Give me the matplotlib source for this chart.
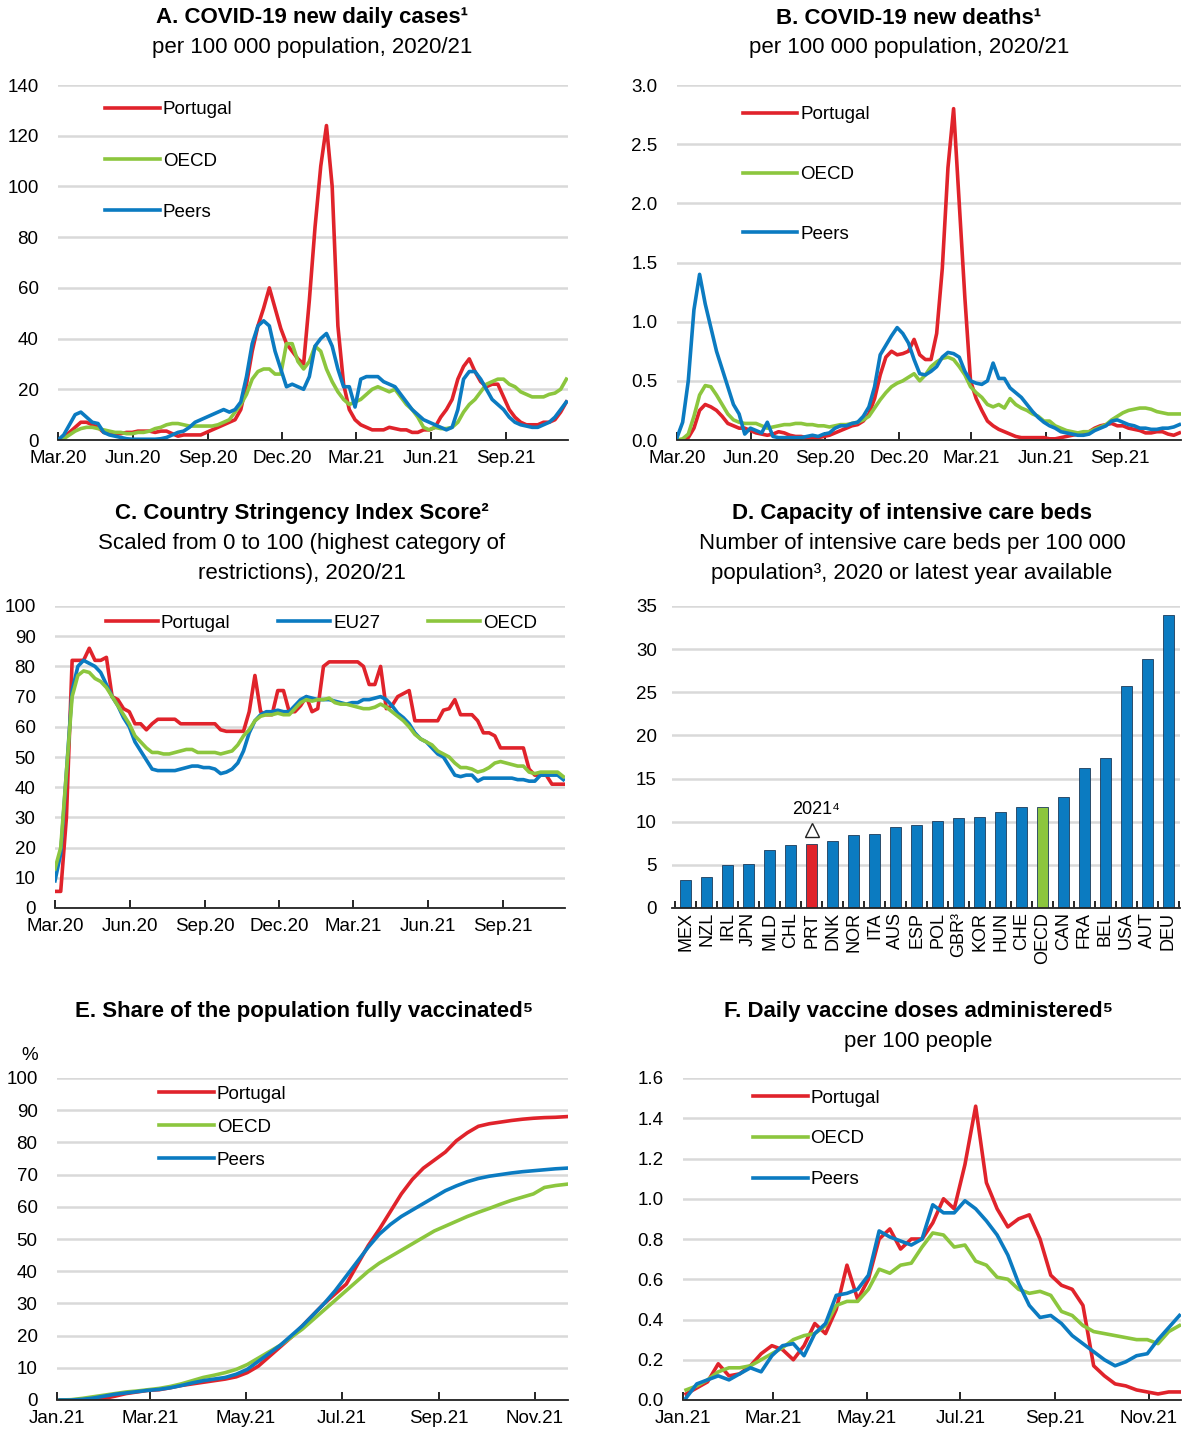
import numpy as np
import pandas as pd
import matplotlib
matplotlib.use("Agg")
import matplotlib.pyplot as plt
import matplotlib.dates as mdates

# Fonts: Arial-like sans with fallback for superscript digits
plt.rcParams['font.family'] = ['Liberation Sans', 'DejaVu Sans']

RED = "#E0232B"
GREEN = "#8CC63E"
BLUE = "#0B7BC1"
GRID = "#D9D9D9"

# ---------------- Data ----------------
# weekly points from 1 Mar 2020 (panels A, B, C)
weeks_20 = pd.date_range("2020-03-01", periods=90, freq="7D")

cases_prt = [0, 1, 3, 5, 7, 7, 6, 5, 3, 2.5, 2.5, 2.5, 3, 3, 3.5, 3.5, 3.5, 3, 3.5, 3.5,
             2.5, 1.5, 2, 2, 2, 2, 3, 4, 5, 6, 7, 8, 12, 22, 35, 45, 52, 60, 52, 44,
             38, 35, 32, 30, 55, 84, 108, 124, 100, 45, 22, 12, 8, 6, 5, 4, 4, 4, 5, 4.5,
             4, 4, 3, 3, 4, 4, 5, 9, 12, 16, 24, 29, 32, 27, 23, 21, 22, 22, 17, 12,
             9, 7, 6, 6, 6, 7, 7, 8, 11, 15]
cases_oecd = [0, 0.5, 2, 3.5, 4.5, 5, 5, 4.5, 4, 3.5, 3, 3, 2.5, 2.5, 3, 3, 3.5, 4.5, 5, 6,
              6.5, 6.5, 6, 5.5, 5.5, 5.5, 5.5, 5.5, 6, 7, 8, 11, 14, 18, 24, 27, 28, 28, 26, 26,
              38, 38, 31, 28, 31, 37, 35, 28, 23, 19, 16, 14, 15, 16, 18, 20, 21, 20, 19, 20,
              17, 14, 12, 9, 5, 4, 5, 4.5, 4.5, 5, 7, 11, 14, 16, 19, 22, 23, 24, 24, 22,
              21, 19, 18, 17, 17, 17, 18, 18.5, 20, 24]
cases_peers = [0, 2, 6, 10, 11, 9, 7, 6.5, 3, 2, 1.5, 1, 0.5, 0.3, 0.3, 0.3, 0.3, 0.3, 0.5, 1,
               2, 3, 3.5, 5, 7, 8, 9, 10, 11, 12, 11, 12, 15, 25, 38, 45, 47, 45, 35, 28,
               21, 22, 21, 20, 25, 37, 40, 42, 37, 28, 21, 21, 13, 24, 25, 25, 25, 23, 22, 21,
               18, 15, 12, 10, 8, 7, 6, 5, 4, 5, 12, 24, 27, 27, 24, 20, 16, 14, 12, 9,
               7, 6, 5.5, 5, 5, 6, 7, 9, 12, 15]

deaths_prt = [0, 0, 0.02, 0.1, 0.25, 0.3, 0.28, 0.25, 0.2, 0.14, 0.12, 0.1, 0.1, 0.08, 0.06,
              0.05, 0.04, 0.05, 0.07, 0.06, 0.04, 0.03, 0.03, 0.02, 0.02, 0.02, 0.03, 0.04,
              0.06, 0.08, 0.1, 0.12, 0.13, 0.16, 0.22, 0.35, 0.55, 0.7, 0.75, 0.72, 0.73,
              0.75, 0.85, 0.72, 0.68, 0.68, 0.9, 1.45, 2.3, 2.8, 2.0, 1.2, 0.5, 0.35, 0.25,
              0.16, 0.12, 0.09, 0.07, 0.05, 0.03, 0.02, 0.02, 0.02, 0.02, 0.02, 0.01, 0.01,
              0.02, 0.03, 0.04, 0.05, 0.06, 0.07, 0.1, 0.12, 0.13, 0.14, 0.12, 0.12, 0.1,
              0.09, 0.08, 0.06, 0.06, 0.07, 0.07, 0.05, 0.04, 0.06]
deaths_oecd = [0, 0.01, 0.05, 0.2, 0.38, 0.46, 0.45, 0.38, 0.3, 0.22, 0.17, 0.15, 0.14, 0.14,
               0.14, 0.12, 0.1, 0.11, 0.12, 0.13, 0.13, 0.14, 0.14, 0.13, 0.13, 0.12, 0.12,
               0.11, 0.12, 0.13, 0.13, 0.14, 0.15, 0.17, 0.2, 0.27, 0.34, 0.4, 0.45, 0.48,
               0.5, 0.53, 0.56, 0.5, 0.55, 0.62, 0.66, 0.69, 0.7, 0.68, 0.62, 0.55, 0.45,
               0.4, 0.36, 0.3, 0.28, 0.3, 0.27, 0.35, 0.3, 0.27, 0.25, 0.22, 0.2, 0.16, 0.16,
               0.12, 0.1, 0.08, 0.07, 0.06, 0.07, 0.07, 0.09, 0.11, 0.13, 0.17, 0.2, 0.23,
               0.25, 0.26, 0.27, 0.27, 0.26, 0.24, 0.23, 0.22, 0.22, 0.22]
deaths_peers = [0.02, 0.15, 0.5, 1.1, 1.4, 1.15, 0.95, 0.75, 0.6, 0.45, 0.3, 0.22, 0.05, 0.1,
                0.08, 0.06, 0.15, 0.03, 0.02, 0.02, 0.02, 0.02, 0.02, 0.03, 0.04, 0.03,
                0.05, 0.06, 0.1, 0.12, 0.12, 0.14, 0.15, 0.2, 0.28, 0.45, 0.72, 0.8, 0.88,
                0.95, 0.9, 0.82, 0.68, 0.56, 0.55, 0.58, 0.62, 0.7, 0.74, 0.73, 0.7, 0.58,
                0.5, 0.48, 0.47, 0.5, 0.65, 0.52, 0.52, 0.44, 0.4, 0.36, 0.3, 0.24, 0.19,
                0.15, 0.12, 0.1, 0.07, 0.06, 0.05, 0.04, 0.04, 0.05, 0.08, 0.1, 0.12, 0.16,
                0.17, 0.15, 0.13, 0.12, 0.1, 0.1, 0.09, 0.09, 0.1, 0.1, 0.11, 0.13]

string_prt = [5.5, 5.5, 30, 82, 82, 82, 86, 82, 82, 83, 70, 69, 66, 65, 61, 61, 59, 61, 62.5, 62.5,
              62.5, 62.5, 61, 61, 61, 61, 61, 61, 61, 59, 58.5, 58.5, 58.5, 58.5, 65, 77, 65, 64, 64, 72,
              72, 65, 65, 67, 70, 65, 66, 80, 81.5, 81.5, 81.5, 81.5, 81.5, 81.5, 80, 74, 74, 80, 66, 67,
              70, 71, 72, 62, 62, 62, 62, 62, 65.5, 66, 69, 64, 64, 64, 62, 58, 58, 57, 53, 53,
              53, 53, 53, 46, 44, 44, 44, 41, 41, 41]
string_eu27 = [9, 18, 45, 72, 80, 82, 81, 80, 78, 74, 70, 67, 63, 60, 55, 52, 49, 46, 45.5, 45.5,
               45.5, 45.5, 46, 46.5, 47, 47, 46.5, 46.5, 46, 44.5, 45, 46, 48, 52, 58, 62, 64, 65, 65, 65.5,
               65, 65, 67, 69, 70, 69.5, 69, 69, 69, 68.5, 68, 67.5, 68, 68, 69, 69, 69.5, 70, 69, 67,
               64.5, 63, 61, 58, 56, 55, 53, 51, 50, 47, 44, 43.5, 44, 44, 42, 43, 43, 43, 43, 43,
               43, 42.5, 42.5, 42, 42, 44, 44, 44, 44, 42.5]
string_oecd = [13, 20, 45, 70, 77, 78.5, 78, 76, 75, 73, 70, 67, 64, 61, 57, 55, 53, 51.5, 51.5, 51,
               51, 51.5, 52, 52.5, 52.5, 51.5, 51.5, 51.5, 51.5, 51, 51.5, 52, 54, 57, 59, 62, 63.5, 64, 64, 64.5,
               64, 64, 66, 68, 69, 68.5, 69, 69, 69.5, 68, 67.5, 67.5, 67, 66.5, 66, 66, 66.5, 67.5, 66.5, 65,
               63.5, 62, 60, 57.5, 56, 55, 54, 52, 51, 50, 48, 46.5, 46.5, 46, 45, 45.5, 46.5, 48, 48.5, 48,
               47.5, 47, 47, 45, 44.5, 45, 45, 45, 45, 43.5]

# ICU beds per 100 000 population
countries = ["MEX", "NZL", "IRL", "JPN", "MLD", "CHL", "PRT", "DNK", "NOR", "ITA", "AUS", "ESP",
             "POL", "GBR³", "KOR", "HUN", "CHE", "OECD", "CAN", "FRA", "BEL", "USA", "AUT", "DEU"]
icu_beds = [3.3, 3.55, 4.95, 5.1, 6.7, 7.25, 7.4, 7.8, 8.5, 8.55, 9.35, 9.6,
            10.05, 10.45, 10.55, 11.15, 11.75, 11.75, 12.9, 16.25, 17.4, 25.75, 28.9, 33.9]
prt_2021 = 9.0

# weekly points from 3 Jan 2021 (panels E, F)
weeks_21 = pd.date_range("2021-01-03", periods=47, freq="7D")

vacc_prt = [0, 0, 0, 0.1, 0.5, 1.2, 2, 2.5, 3, 3.2, 3.8, 4.5, 5, 5.5, 6, 6.5, 7.2, 8.5, 10.5, 13.5,
            16.5, 19.5, 23, 26.5, 30, 33, 36, 42, 48, 53, 58.5, 64, 68.5, 72, 74.5, 77, 80.5, 83, 85, 85.8,
            86.3, 86.8, 87.2, 87.5, 87.7, 87.8, 88]
vacc_oecd = [0, 0.1, 0.5, 1, 1.5, 2, 2.5, 2.8, 3.2, 3.6, 4.2, 5, 6, 7, 7.7, 8.5, 9.5, 11, 13, 15,
             17, 19.5, 22, 25, 28, 31, 34, 37, 40, 42.5, 44.5, 46.5, 48.5, 50.5, 52.5, 54, 55.5, 57, 58.3, 59.5,
             60.8, 62, 63, 64, 66, 66.6, 67]
vacc_peers = [0, 0, 0.2, 0.6, 1.2, 1.8, 2.2, 2.6, 3, 3.3, 3.8, 4.5, 5.3, 6, 6.5, 7, 8, 9.5, 12, 14.5,
              17, 20, 23, 26.5, 30, 34, 38.5, 43, 47.5, 51.5, 54.5, 57, 59, 61, 63, 65, 66.5, 67.8, 68.8, 69.5,
              70, 70.5, 70.9, 71.2, 71.5, 71.8, 72]

doses_prt = [0.03, 0.06, 0.09, 0.18, 0.12, 0.13, 0.17, 0.23, 0.27, 0.25, 0.2, 0.27, 0.38, 0.33, 0.45,
             0.67, 0.5, 0.6, 0.8, 0.85, 0.75, 0.8, 0.8, 0.88, 1.0, 0.95, 1.17, 1.46, 1.08, 0.95,
             0.86, 0.9, 0.92, 0.8, 0.62, 0.57, 0.55, 0.47, 0.17, 0.12, 0.08, 0.07, 0.05, 0.04, 0.03,
             0.04, 0.04]
doses_oecd = [0.05, 0.07, 0.1, 0.14, 0.16, 0.16, 0.17, 0.2, 0.23, 0.26, 0.3, 0.32, 0.33, 0.37, 0.47,
              0.49, 0.49, 0.55, 0.65, 0.63, 0.67, 0.68, 0.76, 0.83, 0.82, 0.76, 0.77, 0.69, 0.67, 0.61,
              0.6, 0.55, 0.53, 0.54, 0.52, 0.44, 0.42, 0.37, 0.34, 0.33, 0.32, 0.31, 0.3, 0.3, 0.28,
              0.34, 0.37]
doses_peers = [0.01, 0.08, 0.1, 0.12, 0.1, 0.13, 0.16, 0.14, 0.22, 0.27, 0.28, 0.22, 0.33, 0.38, 0.52,
               0.53, 0.55, 0.62, 0.84, 0.81, 0.79, 0.77, 0.8, 0.97, 0.93, 0.93, 0.99, 0.95, 0.89, 0.82,
               0.72, 0.58, 0.47, 0.41, 0.42, 0.38, 0.32, 0.28, 0.24, 0.2, 0.17, 0.19, 0.22, 0.23, 0.3,
               0.36, 0.42]

# ---------------- Figure ----------------
W, H = 1184, 1432
fig = plt.figure(figsize=(W / 100, H / 100), dpi=100)

FS = 13.5  # tick / legend font size


def px_axes(left, top, right, bottom):
    return fig.add_axes([left / W, 1 - bottom / H, (right - left) / W, (bottom - top) / H])


def style_axes(ax, ylim, yticks, fmt="{:.0f}", ypad=14):
    ax.set_ylim(*ylim)
    ax.set_yticks(yticks)
    ax.set_yticklabels([fmt.format(v) for v in yticks])
    for s in ["top", "right", "left"]:
        ax.spines[s].set_visible(False)
    ax.spines["bottom"].set_linewidth(1.3)
    ax.spines["bottom"].set_color("#222222")
    ax.grid(axis="y", color=GRID, linewidth=1.8)
    ax.set_axisbelow(True)
    ax.tick_params(axis="y", length=0, labelsize=FS, pad=ypad)
    ax.tick_params(axis="x", direction="in", length=6, width=1.2, labelsize=FS, pad=7.5)


def date_axis(ax, months, start, end):
    ax.set_xlim(pd.Timestamp(start), pd.Timestamp(end))
    ax.xaxis.set_major_locator(mdates.MonthLocator(bymonth=months))
    ax.xaxis.set_major_formatter(mdates.DateFormatter("%b.%y"))


def titles(x, y_top, bold, lines):
    fig.text(x / W, 1 - y_top / H, bold, ha="center", va="center", fontsize=16, fontweight="bold")
    for i, ln in enumerate(lines):
        fig.text(x / W, 1 - (y_top + 30 * (i + 1)) / H, ln, ha="center", va="center", fontsize=16)


def leg(ax, x, y, spacing, hl=2.93, **kw):
    ax.legend(loc="upper left", bbox_to_anchor=(x, y), frameon=False, fontsize=FS,
              handlelength=hl, handletextpad=0.15, labelspacing=spacing, borderpad=0,
              borderaxespad=0, **kw)


LW = 2.6

# A. cases
axA = px_axes(58, 85, 568, 440)
axA.plot(weeks_20, cases_prt, color=RED, lw=LW, label="Portugal")
axA.plot(weeks_20, cases_oecd, color=GREEN, lw=LW, label="OECD")
axA.plot(weeks_20, cases_peers, color=BLUE, lw=LW, label="Peers")
style_axes(axA, (0, 140), np.arange(0, 141, 20))
date_axis(axA, [3, 6, 9, 12], "2020-03-01", "2021-11-16")
leg(axA, 0.092, 0.954, 1.82)
titles(312, 18, "A. COVID-19 new daily cases¹", ["per 100 000 population, 2020/21"])

# B. deaths
axB = px_axes(677, 85, 1181, 440)
axB.plot(weeks_20, deaths_prt, color=RED, lw=LW, label="Portugal")
axB.plot(weeks_20, deaths_oecd, color=GREEN, lw=LW, label="OECD")
axB.plot(weeks_20, deaths_peers, color=BLUE, lw=LW, label="Peers")
style_axes(axB, (0, 3), np.arange(0, 3.01, 0.5), "{:.1f}")
date_axis(axB, [3, 6, 9, 12], "2020-03-01", "2021-11-16")
leg(axB, 0.13, 0.94, 2.27)
titles(909, 18, "B. COVID-19 new deaths¹", ["per 100 000 population, 2020/21"])

# C. stringency
axC = px_axes(55, 606, 565, 908)
axC.plot(weeks_20, string_prt, color=RED, lw=LW, label="Portugal")
axC.plot(weeks_20, string_eu27, color=BLUE, lw=LW, label="EU27")
axC.plot(weeks_20, string_oecd, color=GREEN, lw=LW, label="OECD")
style_axes(axC, (0, 100), np.arange(0, 101, 10))
date_axis(axC, [3, 6, 9, 12], "2020-03-01", "2021-11-16")
leg(axC, 0.1, 0.972, 0.5, hl=2.77, ncol=3, columnspacing=2.56)
titles(302, 513, "C. Country Stringency Index Score²",
       ["Scaled from 0 to 100 (highest category of", "restrictions), 2020/21"])

# D. ICU beds
axD = px_axes(672, 606, 1180, 908)
bar_colors = [RED if c == "PRT" else GREEN if c == "OECD" else BLUE for c in countries]
xpos = np.arange(len(countries))
axD.bar(xpos, icu_beds, width=0.52, color=bar_colors, edgecolor="#1d3b5a", linewidth=0.6)
style_axes(axD, (0, 35), np.arange(0, 36, 5), ypad=11)
axD.set_xlim(-0.65, len(countries) - 0.45)
axD.set_xticks(xpos)
axD.set_xticklabels(countries, rotation=90, fontsize=13)
axD.tick_params(axis="x", which="major", length=0, pad=3)
axD.set_xticks(np.arange(-0.5, len(countries), 1), minor=True)
axD.tick_params(axis="x", which="minor", direction="in", length=5, width=1.2)
i_prt = countries.index("PRT")
axD.plot([i_prt], [prt_2021], marker="^", markersize=10, markerfacecolor="white",
         markeredgecolor="#222222", markeredgewidth=1.0, linestyle="none")
axD.annotate("2021⁴", (i_prt, prt_2021), xytext=(3, 9), textcoords="offset points",
             ha="center", va="bottom", fontsize=13)
titles(912, 513, "D. Capacity of intensive care beds",
       ["Number of intensive care beds per 100 000", "population³, 2020 or latest year available"])

# E. fully vaccinated
axE = px_axes(57, 1078, 568, 1400)
axE.plot(weeks_21, vacc_prt, color=RED, lw=LW, label="Portugal")
axE.plot(weeks_21, vacc_oecd, color=GREEN, lw=LW, label="OECD")
axE.plot(weeks_21, vacc_peers, color=BLUE, lw=LW, label="Peers")
style_axes(axE, (0, 100), np.arange(0, 101, 10))
date_axis(axE, [1, 3, 5, 7, 9, 11], "2021-01-01", "2021-11-22")
leg(axE, 0.2, 0.977, 0.86)
fig.text(30 / W, 1 - 1055 / H, "%", ha="center", va="center", fontsize=FS)
titles(304, 1011, "E. Share of the population fully vaccinated⁵", [])

# F. daily doses
axF = px_axes(683, 1078, 1181, 1400)
axF.plot(weeks_21, doses_prt, color=RED, lw=LW, label="Portugal")
axF.plot(weeks_21, doses_oecd, color=GREEN, lw=LW, label="OECD")
axF.plot(weeks_21, doses_peers, color=BLUE, lw=LW, label="Peers")
style_axes(axF, (0, 1.6), np.arange(0, 1.61, 0.2), "{:.1f}")
date_axis(axF, [1, 3, 5, 7, 9, 11], "2021-01-01", "2021-11-22")
leg(axF, 0.14, 0.964, 1.26)
titles(918, 1011, "F. Daily vaccine doses administered⁵", ["per 100 people"])

fig.savefig("out.png", dpi=100)
